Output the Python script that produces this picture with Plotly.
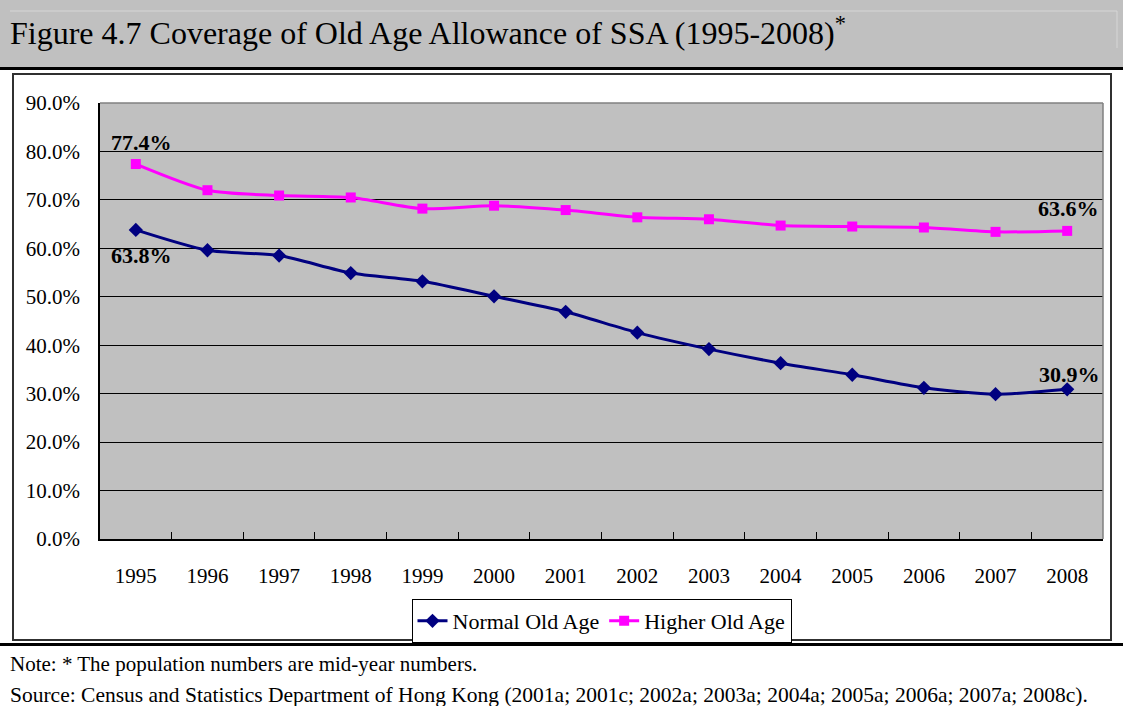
import plotly.graph_objects as go

years = ["1995", "1996", "1997", "1998", "1999", "2000", "2001",
         "2002", "2003", "2004", "2005", "2006", "2007", "2008"]
normal_old_age = [0.638, 0.596, 0.585, 0.549, 0.532, 0.501, 0.469,
                  0.426, 0.392, 0.363, 0.339, 0.312, 0.299, 0.309]
higher_old_age = [0.774, 0.720, 0.709, 0.705, 0.682, 0.688, 0.679,
                  0.664, 0.660, 0.647, 0.645, 0.643, 0.634, 0.636]
y_ticks = [0.0, 0.1, 0.2, 0.3, 0.4, 0.5, 0.6, 0.7, 0.8, 0.9]

W, H = 1123, 706
L, R, T, B = 100, 1103, 103, 539  # plot area in px


def px_x(p):
    return (p - L) / (R - L)


def px_y(p):
    return (B - p) / (B - T)


SERIF = "Liberation Serif, Times New Roman, serif"

fig = go.Figure()
fig.add_trace(go.Scatter(
    x=years, y=normal_old_age, name="Normal Old Age", mode="lines+markers",
    line=dict(color="#000080", width=3, shape="spline", smoothing=0.7),
    marker=dict(symbol="diamond", size=11, color="#000080"),
))
fig.add_trace(go.Scatter(
    x=years, y=higher_old_age, name="Higher Old Age", mode="lines+markers",
    line=dict(color="#FF00FF", width=3, shape="spline", smoothing=0.7),
    marker=dict(symbol="square", size=10, color="#FF00FF"),
))

shapes = [
    # title band
    dict(type="rect", xref="paper", yref="paper", x0=px_x(-5), x1=px_x(W + 5),
         y0=px_y(67), y1=px_y(-5), fillcolor="#C0C0C0", line=dict(width=0), layer="below"),
    dict(type="line", xref="paper", yref="paper", x0=px_x(10), x1=px_x(1117),
         y0=px_y(11), y1=px_y(11), line=dict(color="#D6D6D6", width=1)),
    dict(type="line", xref="paper", yref="paper", x0=px_x(1117), x1=px_x(1117),
         y0=px_y(11), y1=px_y(48), line=dict(color="#D6D6D6", width=1)),
    dict(type="line", xref="paper", yref="paper", x0=px_x(-5), x1=px_x(W + 5),
         y0=px_y(68.5), y1=px_y(68.5), line=dict(color="black", width=3)),
    # chart box
    dict(type="rect", xref="paper", yref="paper", x0=px_x(13), x1=px_x(1111),
         y0=px_y(640), y1=px_y(74), line=dict(color="#303030", width=2), layer="below"),
    dict(type="line", xref="paper", yref="paper", x0=px_x(-5), x1=px_x(W + 5),
         y0=px_y(644.5), y1=px_y(644.5), line=dict(color="black", width=3)),
    # plot frame top/right (gray)
    dict(type="line", xref="paper", yref="paper", x0=0, x1=1, y0=1, y1=1,
         line=dict(color="#808080", width=1.5)),
    dict(type="line", xref="paper", yref="paper", x0=1, x1=1, y0=0, y1=1,
         line=dict(color="#808080", width=1.5)),
]

ann_font = dict(family=SERIF, size=22, color="black")
first, last = 0, len(years) - 1
annotations = [
    dict(x=first, y=higher_old_age[first], xref="x", yref="y", text="<b>77.4%</b>",
         showarrow=False, xshift=6, yshift=22, font=ann_font),
    dict(x=first, y=normal_old_age[first], xref="x", yref="y", text="<b>63.8%</b>",
         showarrow=False, xshift=6, yshift=-26, font=ann_font),
    dict(x=last, y=higher_old_age[last], xref="x", yref="y", text="<b>63.6%</b>",
         showarrow=False, xshift=1, yshift=22, font=ann_font),
    dict(x=last, y=normal_old_age[last], xref="x", yref="y", text="<b>30.9%</b>",
         showarrow=False, xshift=2, yshift=15, font=ann_font),
    # title
    dict(x=px_x(8), y=px_y(31), xref="paper", yref="paper", xanchor="left", yanchor="middle",
         text="Figure 4.7 Coverage of Old Age Allowance of SSA (1995-2008)<sup>*</sup>",
         showarrow=False, font=dict(family=SERIF, size=32, color="black")),
    # notes
    dict(x=px_x(8), y=px_y(664), xref="paper", yref="paper", xanchor="left", yanchor="middle",
         text="Note: * The population numbers are mid-year numbers.",
         showarrow=False, font=dict(family=SERIF, size=21, color="black")),
    dict(x=px_x(8), y=px_y(695), xref="paper", yref="paper", xanchor="left", yanchor="middle",
         text="Source: Census and Statistics Department of Hong Kong (2001a; 2001c; 2002a; 2003a; "
              "2004a; 2005a; 2006a; 2007a; 2008c).",
         showarrow=False, font=dict(family=SERIF, size=21.5, color="black")),
]

fig.update_layout(
    width=W, height=H,
    margin=dict(l=L, r=W - R, t=T, b=H - B, pad=0),
    paper_bgcolor="white", plot_bgcolor="#C0C0C0",
    font=dict(family=SERIF, size=21, color="black"),
    showlegend=True,
    legend=dict(orientation="h", x=0.5, xanchor="center", y=px_y(599), yanchor="top",
                bgcolor="white", bordercolor="black", borderwidth=1,
                font=dict(family=SERIF, size=22, color="black"),
                itemwidth=30, tracegroupgap=0),
    shapes=shapes,
    annotations=annotations,
    xaxis=dict(type="category", range=[-0.5, 13.5], showgrid=False,
               showline=True, linecolor="black", linewidth=1.5,
               ticks="inside", tickson="boundaries", ticklen=7, tickcolor="black",
               tickfont=dict(family=SERIF, size=21), ticklabelstandoff=17,
               zeroline=False, fixedrange=True),
    yaxis=dict(range=[0, 0.9], tickvals=y_ticks, tickformat=".1%",
               showgrid=True, gridcolor="black", gridwidth=1,
               showline=True, linecolor="black", linewidth=1.5,
               ticks="inside", ticklen=7, tickcolor="black",
               tickfont=dict(family=SERIF, size=21), ticklabelstandoff=14,
               zeroline=False, fixedrange=True),
)

fig.write_html("out.html",
               config={"displayModeBar": False},
               post_script="document.body.style.margin='0';document.body.style.overflow='hidden';")
